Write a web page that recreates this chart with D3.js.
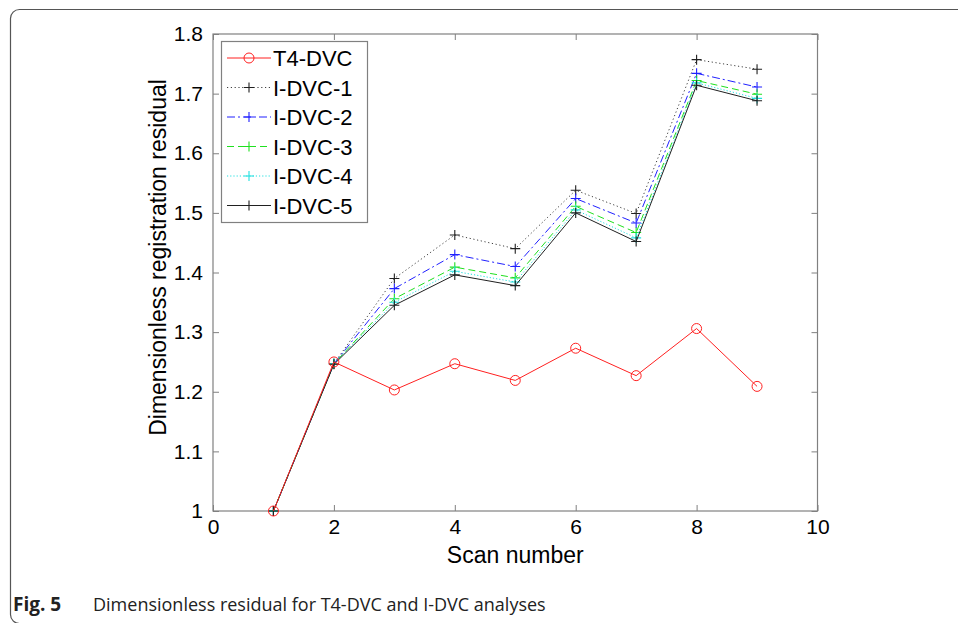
<!DOCTYPE html>
<html>
<head>
<meta charset="utf-8">
<script src="https://cdn.jsdelivr.net/npm/d3@7"></script>
<style>
  html, body { margin: 0; padding: 0; background: #fff; }
  #chart { width: 958px; height: 623px; }
</style>
</head>
<body>
<div id="chart"></div>
<script>
// data
var scans = [1, 2, 3, 4, 5, 6, 7, 8, 9];
var t4dvc = [1.000, 1.250, 1.203, 1.247, 1.219, 1.273, 1.227, 1.306, 1.209];
var idvc1 = [1.000, 1.247, 1.390, 1.463, 1.440, 1.538, 1.499, 1.757, 1.741];
var idvc2 = [1.000, 1.247, 1.373, 1.430, 1.410, 1.524, 1.483, 1.734, 1.711];
var idvc3 = [1.000, 1.247, 1.356, 1.409, 1.391, 1.511, 1.467, 1.722, 1.699];
var idvc4 = [1.000, 1.247, 1.350, 1.402, 1.384, 1.505, 1.458, 1.718, 1.692];
var idvc5 = [1.000, 1.246, 1.345, 1.396, 1.378, 1.500, 1.452, 1.714, 1.688];
var seriesNames = ['T4-DVC', 'I-DVC-1', 'I-DVC-2', 'I-DVC-3', 'I-DVC-4', 'I-DVC-5'];
var xTicks = [0, 2, 4, 6, 8, 10];
var yTicks = [1, 1.1, 1.2, 1.3, 1.4, 1.5, 1.6, 1.7, 1.8];

(function() {
  var FONT = '"Liberation Sans", Arial, sans-serif';
  var w = 958, h = 623;
  var margin = { top: 34, right: 140, bottom: 112, left: 213 };
  var iw = 817.5 - margin.left;
  var ih = 511 - margin.top;

  var svg = d3.select('#chart').append('svg').attr('width', w).attr('height', h);

  // outer figure frame
  svg.append('rect').attr('x', 10.5).attr('y', 9.5).attr('width', 1000).attr('height', 614)
    .attr('rx', 9).attr('fill', 'none').attr('stroke', '#555').attr('stroke-width', 1.2);

  var g = svg.append('g').attr('transform', 'translate(' + margin.left + ',' + margin.top + ')');

  var x = d3.scaleLinear().domain([0, 10]).range([0, iw]);
  var y = d3.scaleLinear().domain([1, 1.8]).range([ih, 0]);

  function styleAxis(sel, showText) {
    sel.select('.domain').remove();
    sel.selectAll('.tick line').attr('stroke', '#808080');
    sel.selectAll('.tick text').attr('fill', '#000').attr('font-size', '21px').attr('font-family', FONT);
    if (!showText) sel.selectAll('.tick text').remove();
  }

  // axes with inward ticks (MATLAB style)
  g.append('g').attr('transform', 'translate(0,' + ih + ')')
    .call(d3.axisBottom(x).tickValues(xTicks).tickSizeInner(-6).tickSizeOuter(0).tickPadding(8).tickFormat(d3.format('d')))
    .call(function(s) { styleAxis(s, true); });
  g.append('g')
    .call(d3.axisTop(x).tickValues(xTicks).tickSizeInner(-6).tickSizeOuter(0))
    .call(function(s) { styleAxis(s, false); });
  g.append('g')
    .call(d3.axisLeft(y).tickValues(yTicks).tickSizeInner(-6).tickSizeOuter(0).tickPadding(10).tickFormat(function(d) { return d3.format('.1f')(d).replace(/\.0$/, ''); }))
    .call(function(s) { styleAxis(s, true); });
  g.append('g').attr('transform', 'translate(' + iw + ',0)')
    .call(d3.axisRight(y).tickValues(yTicks).tickSizeInner(-6).tickSizeOuter(0))
    .call(function(s) { styleAxis(s, false); });

  g.append('rect').attr('x', 0).attr('y', 0).attr('width', iw).attr('height', ih)
    .attr('fill', 'none').attr('stroke', '#808080').attr('stroke-width', 1.2);

  // axis labels
  svg.append('text').attr('x', margin.left + iw / 2).attr('y', 563)
    .attr('text-anchor', 'middle').attr('fill', '#000').attr('font-size', '23px').attr('font-family', FONT)
    .text('Scan number');
  svg.append('text').attr('transform', 'translate(166,' + (margin.top + ih / 2 - 15) + ') rotate(-90)')
    .attr('text-anchor', 'middle').attr('fill', '#000').attr('font-size', '23px').attr('font-family', FONT)
    .text('Dimensionless registration residual');

  // series
  var series = [
    { name: seriesNames[0], values: t4dvc, color: '#ff2020', dash: null, marker: 'o' },
    { name: seriesNames[1], values: idvc1, color: '#404040', dash: '1.2,2.6', marker: '+' },
    { name: seriesNames[2], values: idvc2, color: '#2020ff', dash: '8,3,2,3', marker: '+' },
    { name: seriesNames[3], values: idvc3, color: '#20e020', dash: '7,4', marker: '+' },
    { name: seriesNames[4], values: idvc4, color: '#20e0e0', dash: '1.2,2', marker: '+' },
    { name: seriesNames[5], values: idvc5, color: '#202020', dash: null, marker: '+' }
  ];

  var line = d3.line().x(function(d) { return x(d[0]); }).y(function(d) { return y(d[1]); });

  function drawMarker(sel, type, color) {
    if (type === 'o') {
      sel.append('circle').attr('r', 5).attr('fill', 'none').attr('stroke', color).attr('stroke-width', 1);
    } else {
      sel.append('path').attr('d', 'M-5,0H5M0,-5V5').attr('stroke', color).attr('stroke-width', 1.1);
    }
  }

  // draw I-DVC first, T4 on top at start
  series.slice(1).concat(series.slice(0, 1)).forEach(function(s) {
    var pts = scans.map(function(sc, i) { return [sc, s.values[i]]; });
    g.append('path').datum(pts).attr('d', line)
      .attr('fill', 'none').attr('stroke', s.color).attr('stroke-width', 1)
      .attr('stroke-dasharray', s.dash);
    var mcol = (s.marker === '+' && (s.color === '#404040')) ? '#202020' : s.color;
    pts.forEach(function(p) {
      var m = g.append('g').attr('transform', 'translate(' + x(p[0]) + ',' + y(p[1]) + ')');
      drawMarker(m, s.marker, mcol);
    });
  });

  // legend
  var lg = svg.append('g').attr('transform', 'translate(221,41)');
  lg.append('rect').attr('x', 0.5).attr('y', 0.5).attr('width', 146).attr('height', 181)
    .attr('fill', '#fff').attr('stroke', '#808080').attr('stroke-width', 1.2);
  series.forEach(function(s, i) {
    var ly = 17 + i * 29.5;
    lg.append('line').attr('x1', 6).attr('x2', 50).attr('y1', ly).attr('y2', ly)
      .attr('stroke', s.color).attr('stroke-width', 1).attr('stroke-dasharray', s.dash);
    var m = lg.append('g').attr('transform', 'translate(28,' + ly + ')');
    drawMarker(m, s.marker, s.marker === '+' && s.color === '#404040' ? '#202020' : s.color);
    lg.append('text').attr('x', 52).attr('y', ly + 8).attr('fill', '#000')
      .attr('font-size', '22px').attr('font-family', FONT).text(s.name);
  });

  // caption
  var cap = svg.append('text').attr('x', 13).attr('y', 611).attr('font-family', '"Open Sans", sans-serif').attr('font-size', '18px').attr('fill', '#222');
  cap.append('tspan').attr('font-weight', 'bold').attr('font-size', '19px').text('Fig. 5');
  cap.append('tspan').attr('x', 93).text('Dimensionless residual for T4-DVC and I-DVC analyses');
})();
</script>
</body>
</html>
